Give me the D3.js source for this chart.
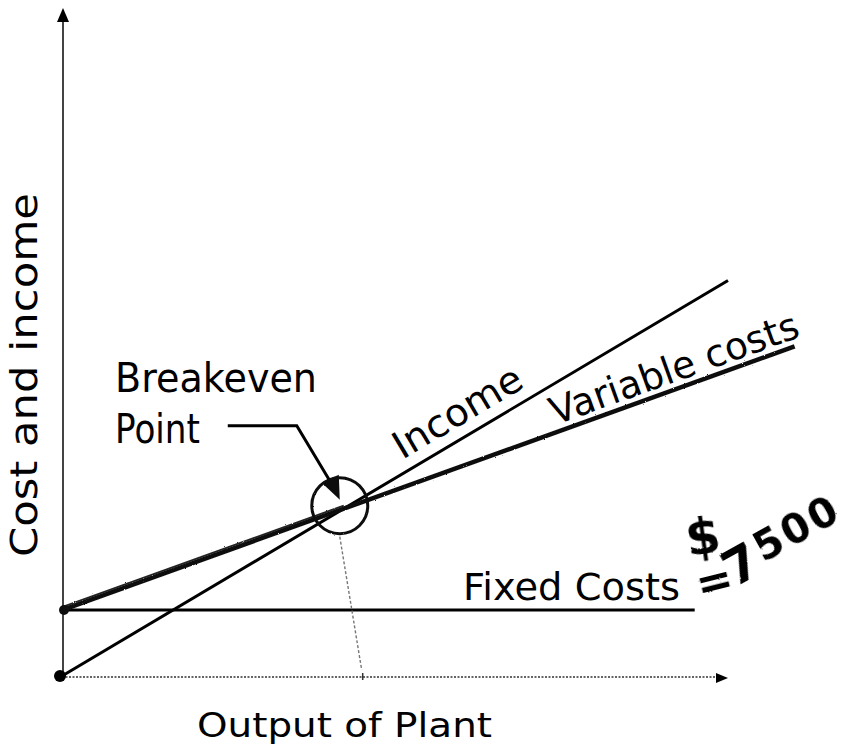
<!DOCTYPE html>
<html>
<head>
<meta charset="utf-8">
<script src="https://cdn.jsdelivr.net/npm/d3@7"></script>
<style>
  body { margin: 0; background: #fff; }
  svg { display: block; }
  text { font-family: "DejaVu Sans", sans-serif; fill: #000; }
</style>
</head>
<body>
<svg id="chart" width="859" height="749"></svg>
<script>
// data (output units vs. money)
const xMax = 100;
const yMax = 76000;
const fixedCost = 7500;
const incomeLine = [[0, 0], [100, 45000]];
const variableLine = [[0, 7500], [110, 37500]];
const fixedLine = [[0, 7500], [95, 7500]];
const breakevenFoot = 45;   // where the hand-drawn drop line meets the x axis
const lineLabels = [
    {name: "Income", line: incomeLine, at: 52, off: -12, len: 144},
    {name: "Variable costs", line: variableLine, at: 74.4, off: -7, len: 262}
];

const svg = d3.select("#chart");

const x = d3.scaleLinear().domain([0, xMax]).range([62, 728]);
const y = d3.scaleLinear().domain([0, yMax]).range([676, 8]);

let line = d3.line().x(d => x(d[0])).y(d => y(d[1]));

// value of a straight two-point line at data x
let valueAt = function(l, xv) {
    let t = (xv - l[0][0]) / (l[1][0] - l[0][0]);
    return l[0][1] + t * (l[1][1] - l[0][1]);
};

// breakeven = where income meets total (variable) costs
let sInc = (incomeLine[1][1] - incomeLine[0][1]) / (incomeLine[1][0] - incomeLine[0][0]);
let sVar = (variableLine[1][1] - variableLine[0][1]) / (variableLine[1][0] - variableLine[0][0]);
let beX = (variableLine[0][1] - incomeLine[0][1]) / (sInc - sVar);
let beY = valueAt(incomeLine, beX);
let bx = x(beX), by = y(beY);

// sketchy look for the hand drawn bits
let defs = svg.append("defs");
defs.append("filter").attr("id", "rough")
    .call(f => {
        f.append("feTurbulence").attr("type", "fractalNoise").attr("baseFrequency", 0.9).attr("numOctaves", 1).attr("result", "n");
        f.append("feDisplacementMap").attr("in", "SourceGraphic").attr("in2", "n").attr("scale", 2.2);
    });

// y axis
svg.append("line")
    .attr("x1", x(0) + 1).attr("x2", x(0) + 1)
    .attr("y1", y(0)).attr("y2", y(yMax) + 10)
    .style("stroke", "#444").style("stroke-width", 2);
svg.append("path")
    .attr("d", d3.line()([[x(0) + 1, y(yMax)], [x(0) - 5, y(yMax) + 14], [x(0) + 7, y(yMax) + 14]]) + "Z")
    .style("fill", "#000");

// x axis (dotted)
svg.append("line")
    .attr("x1", x(0)).attr("x2", x(xMax) - 10)
    .attr("y1", y(0) + 1).attr("y2", y(0) + 1)
    .style("stroke", "#333").style("stroke-width", 1.5)
    .style("stroke-dasharray", "2,1.5");
svg.append("path")
    .attr("d", d3.line()([[x(xMax), y(0) + 2], [x(xMax) - 12, y(0) - 3], [x(xMax) - 12, y(0) + 7]]) + "Z")
    .style("fill", "#000");

// fixed costs
svg.append("path").datum(fixedLine)
    .attr("d", line)
    .style("fill", "none").style("stroke", "#000").style("stroke-width", 3);

// income
svg.append("path").datum(incomeLine)
    .attr("d", line)
    .style("fill", "none").style("stroke", "#000").style("stroke-width", 3);

// variable costs: heavy sketchy stroke, doubled up to the breakeven
svg.append("path").datum(variableLine)
    .attr("d", line)
    .attr("filter", "url(#rough)")
    .style("fill", "none").style("stroke", "#111").style("stroke-width", 4.5);
svg.append("path").datum([variableLine[0], [beX, valueAt(variableLine, beX)]])
    .attr("d", line)
    .attr("transform", "translate(0,-3)")
    .attr("filter", "url(#rough)")
    .style("fill", "none").style("stroke", "#222").style("stroke-width", 2);

// dots at origin and at fixed costs
svg.append("circle")
    .attr("cx", x(0) - 2).attr("cy", y(0))
    .attr("r", 6).style("fill", "#000");
svg.append("circle")
    .attr("cx", x(0) + 2).attr("cy", y(fixedCost))
    .attr("r", 5).attr("filter", "url(#rough)").style("fill", "#111");

// drop line from breakeven to the axis
svg.append("line")
    .attr("x1", bx - 4).attr("y1", by + 28)
    .attr("x2", x(breakevenFoot)).attr("y2", y(0) - 6)
    .style("stroke", "#777").style("stroke-width", 1.4)
    .style("stroke-dasharray", "3,2");
svg.append("line")
    .attr("x1", x(breakevenFoot) + 1).attr("y1", y(0) - 3)
    .attr("x2", x(breakevenFoot) + 1).attr("y2", y(0) + 4)
    .style("stroke", "#333").style("stroke-width", 1.5);

// breakeven circle
svg.append("circle")
    .attr("cx", bx - 4).attr("cy", by - 3).attr("r", 28)
    .attr("filter", "url(#rough)")
    .style("fill", "none").style("stroke", "#111").style("stroke-width", 3);

// pointer from the label
svg.append("path")
    .attr("d", d3.line()([[bx - 116, by - 83], [bx - 47, by - 83], [bx - 14, by - 28]]))
    .style("fill", "none").style("stroke", "#000").style("stroke-width", 3);
svg.append("path")
    .attr("d", d3.line()([[bx - 4, by - 9], [bx - 22, by - 26], [bx - 5, by - 34]]) + "Z")
    .attr("filter", "url(#rough)")
    .style("fill", "#111");

// labels along the lines
lineLabels.forEach(function(lb) {
    let p0 = [x(lb.line[0][0]), y(lb.line[0][1])];
    let p1 = [x(lb.line[1][0]), y(lb.line[1][1])];
    let ang = Math.atan2(p1[1] - p0[1], p1[0] - p0[0]) * 180 / Math.PI;
    svg.append("text")
        .attr("transform", "translate(" + x(lb.at) + "," + y(valueAt(lb.line, lb.at)) + ") rotate(" + ang + ")")
        .attr("x", 0).attr("y", lb.off)
        .attr("textLength", lb.len).attr("lengthAdjust", "spacingAndGlyphs")
        .style("font-size", "38px")
        .text(lb.name);
});

svg.append("text")
    .attr("x", 115).attr("y", 392)
    .attr("textLength", 202).attr("lengthAdjust", "spacingAndGlyphs")
    .style("font-size", "40px").text("Breakeven");
svg.append("text")
    .attr("x", 115).attr("y", 443)
    .attr("textLength", 85).attr("lengthAdjust", "spacingAndGlyphs")
    .style("font-size", "40px").text("Point");

svg.append("text")
    .attr("x", 463).attr("y", 600)
    .attr("textLength", 217).attr("lengthAdjust", "spacingAndGlyphs")
    .style("font-size", "37px").text("Fixed Costs");

// handwritten value of the fixed costs
svg.append("text")
    .attr("transform", "translate(688,556) rotate(-8)")
    .attr("filter", "url(#rough)")
    .style("font-size", "50px").style("font-weight", "bold")
    .text("$");
svg.append("text")
    .attr("transform", "translate(700,600) rotate(-14)")
    .attr("filter", "url(#rough)")
    .style("font-size", "44px").style("font-weight", "bold")
    .text("=");
let fc = String(fixedCost);
let hand = svg.append("text")
    .attr("transform", "translate(734,588) rotate(-29)")
    .attr("filter", "url(#rough)")
    .style("font-weight", "bold");
hand.append("tspan").style("font-size", "50px").text(fc.slice(0, 1));
hand.append("tspan").attr("dx", 3).attr("dy", -8)
    .style("font-size", "40px").style("letter-spacing", "3px").text(fc.slice(1));

// axis titles
svg.append("text")
    .attr("x", 197).attr("y", 737)
    .attr("textLength", 295).attr("lengthAdjust", "spacingAndGlyphs")
    .style("font-size", "34px").text("Output of Plant");
svg.append("text")
    .attr("transform", "translate(37,375) rotate(-90)")
    .attr("text-anchor", "middle")
    .attr("textLength", 364).attr("lengthAdjust", "spacingAndGlyphs")
    .style("font-size", "38px").text("Cost and income");
</script>
</body>
</html>
